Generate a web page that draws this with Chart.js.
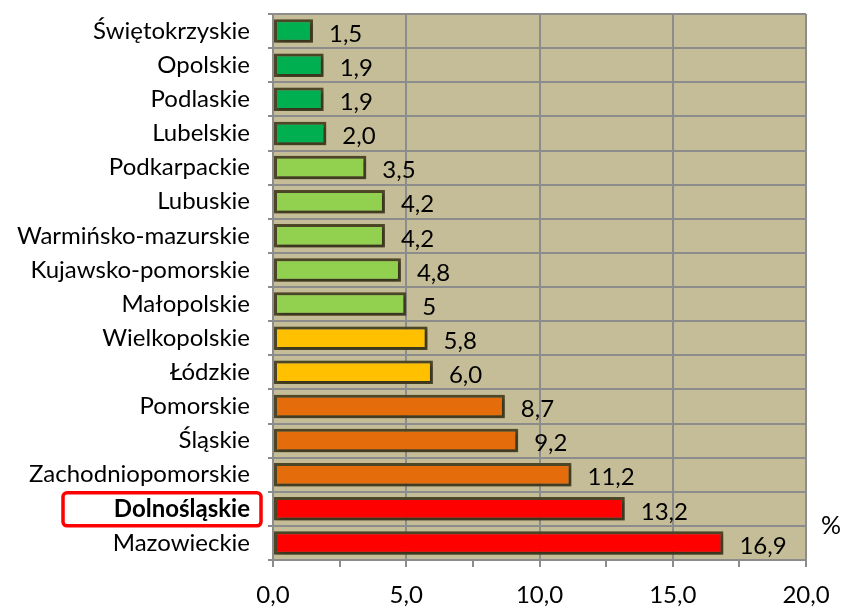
<!DOCTYPE html>
<html>
<head>
<meta charset="utf-8">
<script src="https://cdn.jsdelivr.net/npm/chart.js@4.4.1/dist/chart.umd.min.js"></script>
<style>
  html, body { margin: 0; padding: 0; background: #fff; }
  #wrap { width: 844px; height: 610px; position: relative; }
</style>
</head>
<body>
<div id="wrap"><canvas id="chart-regions"></canvas></div>
<script>
var regions = [
  "Świętokrzyskie", "Opolskie", "Podlaskie", "Lubelskie", "Podkarpackie",
  "Lubuskie", "Warmińsko-mazurskie", "Kujawsko-pomorskie", "Małopolskie",
  "Wielkopolskie", "Łódzkie", "Pomorskie", "Śląskie", "Zachodniopomorskie",
  "Dolnośląskie", "Mazowieckie"
];
var values = [1.5, 1.9, 1.9, 2.0, 3.5, 4.2, 4.2, 4.8, 5, 5.8, 6.0, 8.7, 9.2, 11.2, 13.2, 16.9];
var valueLabels = ["1,5", "1,9", "1,9", "2,0", "3,5", "4,2", "4,2", "4,8", "5", "5,8", "6,0", "8,7", "9,2", "11,2", "13,2", "16,9"];
var xTicks = [0, 5, 10, 15, 20];
var highlighted = "Dolnośląskie";

var barColors = [
  "#00B050", "#00B050", "#00B050", "#00B050",
  "#92D050", "#92D050", "#92D050", "#92D050", "#92D050",
  "#FFC000", "#FFC000",
  "#E46C0A", "#E46C0A", "#E46C0A",
  "#FF0000", "#FF0000"
];

var FONT = "Lato";
var ctx = document.getElementById("chart-regions").getContext("2d");

var areaBg = {
  id: "areaBg",
  beforeDraw: function (chart) {
    var a = chart.chartArea, c = chart.ctx;
    c.save();
    c.fillStyle = "#C4BD97";
    c.fillRect(a.left, a.top, a.right - a.left, a.bottom - a.top);
    c.restore();
  }
};

var barShadow = {
  id: "barShadow",
  beforeDatasetDraw: function (chart) {
    var c = chart.ctx;
    c.save();
    c.shadowColor = "rgba(0,0,0,0.35)";
    c.shadowBlur = 4;
    c.shadowOffsetX = 2;
    c.shadowOffsetY = 2;
  },
  afterDatasetDraw: function (chart) {
    chart.ctx.restore();
  }
};

var extras = {
  id: "extras",
  afterDatasetsDraw: function (chart) {
    var c = chart.ctx;
    var meta = chart.getDatasetMeta(0);
    c.save();
    c.fillStyle = "#000";
    c.font = "24px " + FONT;
    c.textAlign = "left";
    c.textBaseline = "middle";
    meta.data.forEach(function (bar, i) {
      c.fillText(valueLabels[i], bar.x + 16, bar.y + 3);
    });
    // "%" unit near the axis end
    c.font = "25px " + FONT;
    c.fillText("%", 821, 526);
    // red frame round the highlighted region label
    var y = chart.scales.y.getPixelForValue(regions.indexOf(highlighted));
    c.strokeStyle = "#FF0000";
    c.lineWidth = 3.5;
    c.beginPath();
    c.roundRect(63, y - 16, 198, 33, 4);
    c.stroke();
    c.restore();
  }
};

var data = {
  labels: regions,
  datasets: [
    {
      data: values,
      backgroundColor: barColors,
      borderColor: "#4E4828",
      borderWidth: 3,
      borderSkipped: false,
      barPercentage: 0.69,
      categoryPercentage: 1
    }
  ]
};

var options = {
  indexAxis: "y",
  responsive: true,
  maintainAspectRatio: false,
  animation: false,
  layout: { padding: { top: 14, right: 38, left: 0, bottom: 0 } },
  plugins: {
    legend: { display: false },
    tooltip: { enabled: false }
  },
  scales: {
    x: {
      min: 0,
      max: 20,
      afterBuildTicks: function (scale) {
        var t = [];
        for (var v = 0; v <= 20; v += 2.5) t.push({ value: v });
        scale.ticks = t;
      },
      afterFit: function (scale) {
        scale.height = 50;
        scale.paddingLeft = 0;
        scale.paddingRight = 0;
      },
      border: { color: "#8C8C8C", width: 2 },
      grid: {
        color: function (c) {
          return c.tick && xTicks.indexOf(c.tick.value) >= 0 ? "#8C8C8C" : "rgba(0,0,0,0)";
        },
        tickColor: "#8C8C8C",
        lineWidth: 2,
        tickLength: 7
      },
      ticks: {
        color: "#000",
        padding: 14,
        maxRotation: 0,
        autoSkip: false,
        font: { family: FONT, size: 24 },
        callback: function (value) {
          return xTicks.indexOf(value) >= 0 ? value.toFixed(1).replace(".", ",") : "";
        }
      }
    },
    y: {
      afterFit: function (scale) {
        scale.width = 273;
        scale.paddingTop = 0;
        scale.paddingBottom = 0;
      },
      border: { color: "#8C8C8C", width: 2 },
      grid: {
        offset: true,
        color: "#8C8C8C",
        lineWidth: 2,
        tickLength: 5
      },
      ticks: {
        color: "#000",
        padding: 18,
        autoSkip: false,
        font: function (c) {
          return {
            family: FONT,
            size: 24,
            weight: regions[c.index] === highlighted ? "bold" : "normal"
          };
        }
      }
    }
  }
};

var myChart = new Chart(ctx, {
  type: "bar",
  data: data,
  options: options,
  plugins: [areaBg, barShadow, extras]
});
</script>
</body>
</html>
